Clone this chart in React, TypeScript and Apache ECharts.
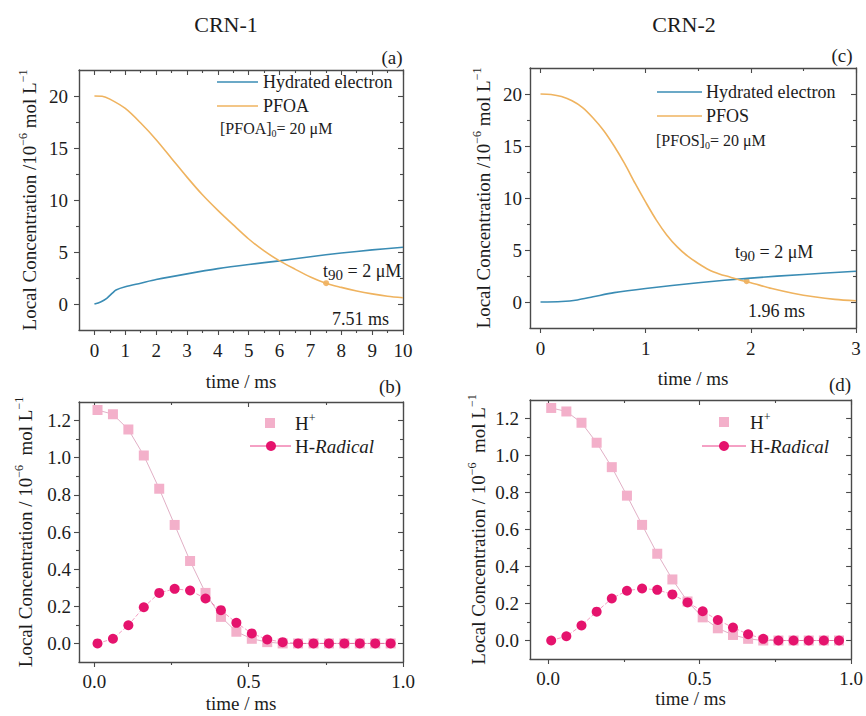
import React, { useEffect, useRef } from "react";
import * as echarts from "echarts";

const FONT = "'Liberation Serif', 'Times New Roman', Times, serif";
const INK = "#1c1c1c";
const AXIS = "#4a4a4a";
const BLUE = "#3a8cb4";
const ORANGE = "#efb35f";
const PINK_LIGHT = "#f3b0ca";
const PINK_LINE = "#d99ab6";
const PINK = "#e5136d";

// ---------- Panel (a): CRN-1 ----------
const timeA = [0, 0.25, 0.5, 1, 1.5, 2, 2.5, 3, 3.5, 4, 4.5, 5, 5.5, 6, 6.5, 7, 7.5, 8, 8.5, 9, 9.5, 10];
const pfoaA = [20, 19.97, 19.7, 18.8, 17.4, 15.8, 14.0, 12.2, 10.5, 9.0, 7.6, 6.25, 5.1, 4.15, 3.35, 2.6, 2.0, 1.6, 1.25, 0.97, 0.75, 0.6];
const timeAe = [0, 0.2, 0.4, 0.6, 0.7, 1, 1.5, 2, 3, 4, 5, 6, 7, 8, 9, 10];
const electronA = [0, 0.2, 0.55, 1.1, 1.35, 1.65, 2.0, 2.35, 2.9, 3.4, 3.8, 4.15, 4.55, 4.9, 5.2, 5.45];
const t90A = [7.51, 2];

// ---------- Panel (c): CRN-2 ----------
const timeC = [0, 0.1, 0.2, 0.3, 0.4, 0.5, 0.6, 0.7, 0.8, 0.9, 1.0, 1.1, 1.2, 1.3, 1.4, 1.5, 1.6, 1.7, 1.8, 1.9, 2.0, 2.2, 2.4, 2.6, 2.8, 3.0];
const pfosC = [20, 19.95, 19.75, 19.35, 18.7, 17.7, 16.5, 15.0, 13.3, 11.4, 9.6, 7.9, 6.45, 5.3, 4.4, 3.7, 3.1, 2.7, 2.4, 2.1, 1.85, 1.3, 0.85, 0.5, 0.25, 0.12];
const timeCe = [0, 0.2, 0.35, 0.5, 0.7, 1.0, 1.5, 2.0, 2.5, 3.0];
const electronC = [0, 0.05, 0.2, 0.5, 0.9, 1.3, 1.85, 2.3, 2.65, 2.95];
const t90C = [1.96, 2];

// ---------- Panels (b) and (d): H+ and H-Radical ----------
const timeH = [0.01, 0.06, 0.11, 0.16, 0.21, 0.26, 0.31, 0.36, 0.41, 0.46, 0.51, 0.56, 0.61, 0.66, 0.71, 0.76, 0.81, 0.86, 0.91, 0.96];
const hPlusB = [1.257, 1.234, 1.152, 1.012, 0.833, 0.638, 0.444, 0.272, 0.143, 0.063, 0.025, 0.007, 0, 0, 0, 0, 0, 0, 0, 0];
const radicalB = [0, 0.025, 0.098, 0.195, 0.272, 0.294, 0.285, 0.242, 0.179, 0.111, 0.054, 0.021, 0.007, 0, 0, 0, 0, 0, 0, 0];
const hPlusD = [1.257, 1.238, 1.177, 1.069, 0.937, 0.783, 0.625, 0.469, 0.33, 0.211, 0.125, 0.066, 0.03, 0.009, 0, 0, 0, 0, 0, 0];
const radicalD = [0, 0.023, 0.081, 0.156, 0.227, 0.269, 0.281, 0.274, 0.249, 0.206, 0.158, 0.111, 0.07, 0.034, 0.009, 0, 0, 0, 0, 0];

// ---------- Tick values ----------
const ticksXA = [0, 1, 2, 3, 4, 5, 6, 7, 8, 9, 10];
const minorXA = [0.5, 1.5, 2.5, 3.5, 4.5, 5.5, 6.5, 7.5, 8.5, 9.5];
const ticksYConc = [0, 5, 10, 15, 20];
const minorYConc = [2.5, 7.5, 12.5, 17.5];
const ticksXC = [0, 1, 2, 3];
const minorXC = [0.5, 1.5, 2.5];
const ticksXH = [0, 0.5, 1.0];
const minorXH = [0.25, 0.75];
const ticksYH = [0, 0.2, 0.4, 0.6, 0.8, 1.0, 1.2];
const minorYH = [0.1, 0.3, 0.5, 0.7, 0.9, 1.1];

const pairs = (xs: number[], ys: number[]) => xs.map((x, i) => [x, ys[i]]);

type Panel = {
  left: number; top: number; width: number; height: number;
  xMin: number; xMax: number; xTicks: number[]; xMinor: number[]; xFmt: (v: number) => string;
  yMin: number; yMax: number; yTicks: number[]; yMinor: number[]; yFmt: (v: number) => string;
  xNameGap: number; yName: string; yNameGap: number; xMargin: number; yMargin: number;
};

const intFmt = (v: number) => String(Math.round(v));
const oneFmt = (v: number) => v.toFixed(1);

const richName = {
  n: { fontFamily: FONT, fontSize: 19, color: INK, lineHeight: 24 },
  s: { fontFamily: FONT, fontSize: 12, color: INK, verticalAlign: "top", lineHeight: 14 },
};

const panels: Panel[] = [
  {
    left: 79, top: 70, width: 324, height: 260,
    xMin: -0.5, xMax: 10, xTicks: ticksXA, xMinor: minorXA, xFmt: intFmt,
    yMin: -2.5, yMax: 22.5, yTicks: ticksYConc, yMinor: minorYConc, yFmt: intFmt,
    xNameGap: 42, yName: "{n|Local Concentration /10}{s|−6}{n| mol L}{s|−1}", yNameGap: 38, xMargin: 11, yMargin: 11,
  },
  {
    left: 79, top: 402, width: 324, height: 260,
    xMin: -0.05, xMax: 1.0, xTicks: ticksXH, xMinor: minorXH, xFmt: oneFmt,
    yMin: -0.1, yMax: 1.3, yTicks: ticksYH, yMinor: minorYH, yFmt: oneFmt,
    xNameGap: 32, yName: "{n|Local Concentration / 10}{s|−6}{n|  mol L}{s|−1}", yNameGap: 42, xMargin: 10, yMargin: 8,
  },
  {
    left: 530, top: 68, width: 326, height: 260,
    xMin: -0.1, xMax: 3, xTicks: ticksXC, xMinor: minorXC, xFmt: intFmt,
    yMin: -2.5, yMax: 22.5, yTicks: ticksYConc, yMinor: minorYConc, yFmt: intFmt,
    xNameGap: 41, yName: "{n|Local Concentration /10}{s|−6}{n| mol L}{s|−1}", yNameGap: 35, xMargin: 11, yMargin: 8,
  },
  {
    left: 530, top: 400, width: 326, height: 259,
    xMin: -0.06, xMax: 1.0, xTicks: ticksXH, xMinor: minorXH, xFmt: oneFmt,
    yMin: -0.1, yMax: 1.3, yTicks: ticksYH, yMinor: minorYH, yFmt: oneFmt,
    xNameGap: 30, yName: "{n|Local Concentration / 10}{s|−6}{n|  mol L}{s|−1}", yNameGap: 40, xMargin: 10, yMargin: 11,
  },
];

function buildAxes(p: Panel, gi: number) {
  const line = { show: true, onZero: false, lineStyle: { color: AXIS, width: 1.4 } };
  const noLine = { show: false, onZero: false };
  const tickStyle = { color: AXIS, width: 1.1 };
  const base = (min: number, max: number) => ({ type: "value", gridIndex: gi, min, max, splitLine: { show: false }, silent: true });
  const xs = [
    {
      ...base(p.xMin, p.xMax), position: "bottom", axisLine: line,
      axisTick: { show: true, inside: false, length: 5, customValues: p.xTicks, lineStyle: tickStyle },
      axisLabel: { show: true, customValues: p.xTicks, formatter: p.xFmt, fontFamily: FONT, fontSize: 19, color: INK, margin: p.xMargin },
      name: "time / ms", nameLocation: "middle", nameGap: p.xNameGap,
      nameTextStyle: { fontFamily: FONT, fontSize: 19, color: INK },
    },
    {
      ...base(p.xMin, p.xMax), position: "bottom", axisLine: noLine,
      axisTick: { show: true, inside: false, length: 3, customValues: p.xMinor, lineStyle: tickStyle },
      axisLabel: { show: false },
    },
    {
      ...base(p.xMin, p.xMax), position: "top", axisLine: line,
      axisTick: { show: true, inside: true, length: 5, customValues: p.xTicks, lineStyle: tickStyle },
      axisLabel: { show: false },
    },
    {
      ...base(p.xMin, p.xMax), position: "top", axisLine: noLine,
      axisTick: { show: true, inside: true, length: 3, customValues: p.xMinor, lineStyle: tickStyle },
      axisLabel: { show: false },
    },
  ];
  const ys = [
    {
      ...base(p.yMin, p.yMax), position: "left", axisLine: line,
      axisTick: { show: true, inside: false, length: 5, customValues: p.yTicks, lineStyle: tickStyle },
      axisLabel: { show: true, customValues: p.yTicks, formatter: p.yFmt, fontFamily: FONT, fontSize: 19, color: INK, margin: p.yMargin },
      name: p.yName, nameLocation: "middle", nameGap: p.yNameGap, nameRotate: 90,
      nameTextStyle: { fontFamily: FONT, fontSize: 19, color: INK, rich: richName },
    },
    {
      ...base(p.yMin, p.yMax), position: "left", axisLine: noLine,
      axisTick: { show: true, inside: false, length: 3, customValues: p.yMinor, lineStyle: tickStyle },
      axisLabel: { show: false },
    },
    {
      ...base(p.yMin, p.yMax), position: "right", axisLine: line,
      axisTick: { show: true, inside: true, length: 5, customValues: p.yTicks, lineStyle: tickStyle },
      axisLabel: { show: false },
    },
    {
      ...base(p.yMin, p.yMax), position: "right", axisLine: noLine,
      axisTick: { show: true, inside: true, length: 3, customValues: p.yMinor, lineStyle: tickStyle },
      axisLabel: { show: false },
    },
  ];
  return { xs, ys };
}

const txt = (x: number, y: number, text: string, size: number, align = "left", extra: any = {}) => ({
  type: "text",
  x, y, silent: true,
  style: {
    text, fontFamily: FONT, fontSize: size, fill: INK, align, verticalAlign: "middle",
    ...extra,
  },
});

const subRich = (size: number, subSize: number) => ({
  n: { fontFamily: FONT, fontSize: size, fill: INK, color: INK, lineHeight: size + 4 },
  b: { fontFamily: FONT, fontSize: subSize, fill: INK, color: INK, verticalAlign: "bottom", lineHeight: subSize + 2 },
  s: { fontFamily: FONT, fontSize: subSize, fill: INK, color: INK, verticalAlign: "top", lineHeight: subSize + 2 },
  i: { fontFamily: FONT, fontSize: size, fill: INK, color: INK, fontStyle: "italic", lineHeight: size + 4 },
});

const curve = (name: string, gi: number, data: number[][], color: string) => ({
  type: "line", name, xAxisIndex: gi * 4, yAxisIndex: gi * 4, data,
  smooth: 0.3, showSymbol: false, symbol: "none",
  lineStyle: { color, width: 1.6 }, itemStyle: { color },
});

export default function App() {
  const ref = useRef<HTMLDivElement>(null);
  useEffect(() => {
    document.body.style.margin = "0";
    if (!ref.current) return;
    const chart = echarts.init(ref.current, null, { renderer: "svg" });

    const grid: any[] = [];
    const xAxis: any[] = [];
    const yAxis: any[] = [];
    panels.forEach((p, gi) => {
      grid.push({ left: p.left, top: p.top, width: p.width, height: p.height });
      const { xs, ys } = buildAxes(p, gi);
      xAxis.push(...xs);
      yAxis.push(...ys);
    });
    const ax = (gi: number) => ({ xAxisIndex: gi * 4, yAxisIndex: gi * 4 });

    const series: any[] = [
      // (a)
      curve("Hydrated electron", 0, pairs(timeAe, electronA), BLUE),
      curve("PFOA", 0, pairs(timeA, pfoaA), ORANGE),
      {
        type: "scatter", name: "t90 PFOA", ...ax(0), data: [t90A],
        symbolSize: 6, itemStyle: { color: "#eea54b" },
      },
      // (b)
      {
        type: "line", name: "H+", ...ax(1), data: pairs(timeH, hPlusB),
        symbol: "rect", symbolSize: 10, showSymbol: true,
        lineStyle: { color: PINK_LINE, width: 0.8 }, itemStyle: { color: PINK_LIGHT },
      },
      {
        type: "line", name: "H-Radical", ...ax(1), data: pairs(timeH, radicalB),
        symbol: "circle", symbolSize: 10, showSymbol: true,
        lineStyle: { color: PINK, width: 0.7, opacity: 0.6, type: [4, 2] }, itemStyle: { color: PINK },
      },
      // (c)
      curve("Hydrated electron", 2, pairs(timeCe, electronC), BLUE),
      curve("PFOS", 2, pairs(timeC, pfosC), ORANGE),
      {
        type: "scatter", name: "t90 PFOS", ...ax(2), data: [t90C],
        symbolSize: 6, itemStyle: { color: "#eea54b" },
      },
      // (d)
      {
        type: "line", name: "H+", ...ax(3), data: pairs(timeH, hPlusD),
        symbol: "rect", symbolSize: 10, showSymbol: true,
        lineStyle: { color: PINK_LINE, width: 0.8 }, itemStyle: { color: PINK_LIGHT },
      },
      {
        type: "line", name: "H-Radical", ...ax(3), data: pairs(timeH, radicalD),
        symbol: "circle", symbolSize: 10, showSymbol: true,
        lineStyle: { color: PINK, width: 0.7, opacity: 0.6, type: [4, 2] }, itemStyle: { color: PINK },
      },
    ];

    const graphic: any[] = [
      // titles and panel letters
      txt(226, 24, "CRN-1", 22, "center"),
      txt(684, 24, "CRN-2", 22, "center"),
      txt(392, 57, "(a)", 19, "center"),
      txt(390, 386, "(b)", 19, "center"),
      txt(842, 55, "(c)", 19, "center"),
      txt(840, 384, "(d)", 19, "center"),

      // legend (a)
      { type: "line", silent: true, shape: { x1: 217, y1: 82, x2: 258, y2: 82 }, style: { stroke: BLUE, lineWidth: 1.6 } },
      txt(263, 82, "Hydrated electron", 18),
      { type: "line", silent: true, shape: { x1: 217, y1: 106, x2: 258, y2: 106 }, style: { stroke: ORANGE, lineWidth: 1.6 } },
      txt(263, 106, "PFOA", 18),
      txt(220, 128, "{n|[PFOA]}{b|0}{n|= 20 μM}", 16, "left", { rich: subRich(16, 10) }),
      txt(323, 271, "{n|t}{b|90}{n| = 2 μM}", 18, "left", { rich: subRich(18, 15) }),
      txt(332, 319, "7.51 ms", 18),

      // legend (c)
      { type: "line", silent: true, shape: { x1: 657, y1: 92, x2: 702, y2: 92 }, style: { stroke: BLUE, lineWidth: 1.6 } },
      txt(706, 92, "Hydrated electron", 18),
      { type: "line", silent: true, shape: { x1: 657, y1: 116, x2: 702, y2: 116 }, style: { stroke: ORANGE, lineWidth: 1.6 } },
      txt(706, 116, "PFOS", 18),
      txt(656, 140, "{n|[PFOS]}{b|0}{n|= 20 μM}", 16, "left", { rich: subRich(16, 10) }),
      txt(735, 252, "{n|t}{b|90}{n| = 2 μM}", 18, "left", { rich: subRich(18, 15) }),
      txt(748, 311, "1.96 ms", 18),

      // legend (b)
      { type: "rect", silent: true, shape: { x: 265, y: 418, width: 10, height: 10 }, style: { fill: PINK_LIGHT } },
      txt(295, 423, "{n|H}{s|+}", 19, "left", { rich: subRich(19, 12) }),
      { type: "line", silent: true, shape: { x1: 250, y1: 446, x2: 291, y2: 446 }, style: { stroke: PINK, lineWidth: 0.8 } },
      { type: "circle", silent: true, shape: { cx: 271, cy: 446, r: 5 }, style: { fill: PINK } },
      txt(295, 446, "{n|H-}{i|Radical}", 19, "left", { rich: subRich(19, 12) }),

      // legend (d)
      { type: "rect", silent: true, shape: { x: 719, y: 417, width: 10, height: 10 }, style: { fill: PINK_LIGHT } },
      txt(750, 422, "{n|H}{s|+}", 19, "left", { rich: subRich(19, 12) }),
      { type: "line", silent: true, shape: { x1: 702, y1: 446, x2: 746, y2: 446 }, style: { stroke: PINK, lineWidth: 0.8 } },
      { type: "circle", silent: true, shape: { cx: 724, cy: 446, r: 5 }, style: { fill: PINK } },
      txt(750, 446, "{n|H-}{i|Radical}", 19, "left", { rich: subRich(19, 12) }),
    ];

    chart.setOption({
      animation: false,
      backgroundColor: "#ffffff",
      grid,
      xAxis,
      yAxis,
      series,
      graphic,
    });
    return () => chart.dispose();
  }, []);
  return <div ref={ref} style={{ width: 866, height: 716 }} />;
}
